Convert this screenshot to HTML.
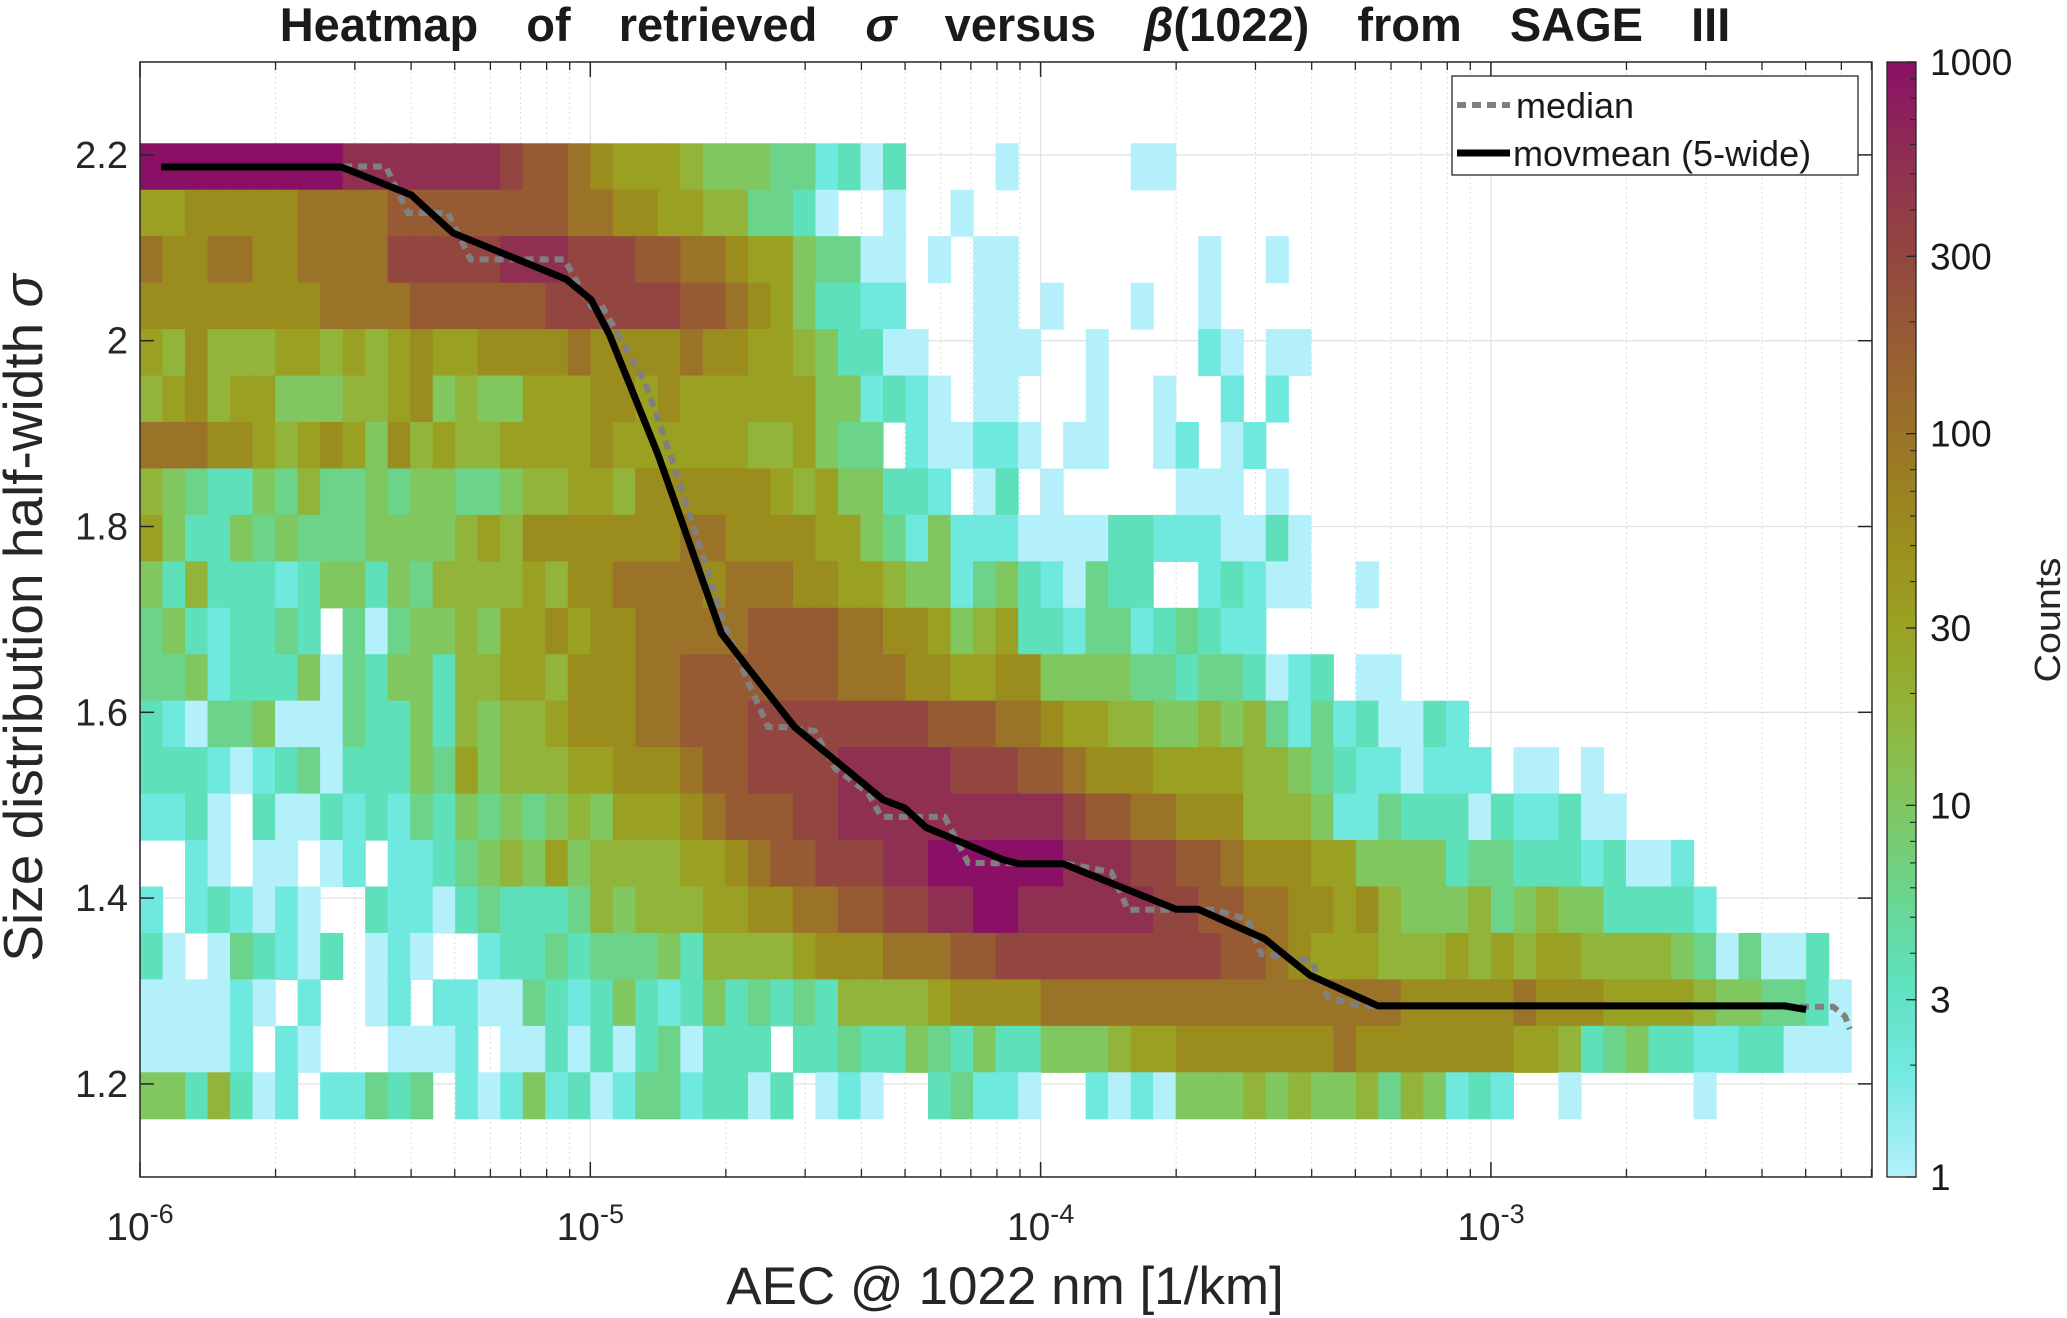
<!DOCTYPE html>
<html><head><meta charset="utf-8"><style>
html,body{margin:0;padding:0;background:#fff;}
svg{display:block;font-family:"Liberation Sans",sans-serif;}
</style></head><body>
<svg id="chart" width="2067" height="1318" viewBox="0 0 2067 1318" xmlns="http://www.w3.org/2000/svg">
<g id="grid"></g>
<g id="cells"></g>
<g id="lines"></g>
<g id="axes"></g>
<g id="cbar"></g>
<text x="1005" y="41" text-anchor="middle" font-size="47" font-weight="bold" fill="#1a1a1a" word-spacing="35">Heatmap of retrieved <tspan font-style="italic">σ</tspan> versus <tspan font-style="italic">β</tspan>(1022) from SAGE III</text>
<text x="1005" y="1304" text-anchor="middle" font-size="53" fill="#262626">AEC @ 1022 nm [1/km]</text>
<text transform="translate(42,618) rotate(-90)" text-anchor="middle" font-size="55" fill="#262626">Size distribution half-width <tspan font-style="italic">σ</tspan></text>
<text transform="translate(2060,620) rotate(-90)" text-anchor="middle" font-size="36" fill="#262626" textLength="125" lengthAdjust="spacingAndGlyphs">Counts</text>
<g>
<rect x="1452" y="76" width="406" height="99" fill="#fff" stroke="#262626" stroke-width="1.3"/>
<line x1="1457" y1="105" x2="1510" y2="105" stroke="#808080" stroke-width="6" stroke-dasharray="9,6"/>
<text x="1516" y="118" font-size="36" fill="#1a1a1a">median</text>
<line x1="1457" y1="153" x2="1510" y2="153" stroke="#000" stroke-width="7"/>
<text x="1513" y="166" font-size="36" fill="#1a1a1a">movmean (5-wide)</text>
</g>
</svg>
<script>
// ---- data ----
const levelCodes = ['a','b','c','d','e','f','g','h','i','j','k','l','m'];
const levelCounts = [1,2,3.5,6,10,18,30,55,100,180,300,550,1000];
const sigmaBinTop = [2.2125,2.1625,2.1125,2.0625,2.0125,1.9625,1.9125,1.8625,1.8125,1.7625,1.7125,1.6625,1.6125,1.5625,1.5125,1.4625,1.4125,1.3625,1.3125,1.2625,1.2125];
const heatRows = [
"mmmmmmmmmlllllllkjj"+"ihgggfeeeddbcac...."+"a.....aa............"+"..................",
"gghhhhhiiiijjjjjjjj"+"iihhggffddca..a..a."+"...................."+"..................",
"ihhiihhiiiikkkkklll"+"kkkjjiihggeddaa.a.a"+"a........a..a......."+"..................",
"hhhhhhhhiiiijjjjjjk"+"kkkkkjjihgeccbb...a"+"a.a...a..a.........."+"..................",
"gfhfffggfgfghgghhhh"+"ihhhhihhggfeccaa..a"+"aa..a....ba.aa......"+"..................",
"fghfggeeeffghefeegg"+"ghhghggggggeebcba.a"+"a...a..a..b.b......."+"..................",
"iiihhgfghgehfgffggg"+"ghggggggffgedd.baab"+"ba.aa..ab.ab........"+"..................",
"fedccedfddedeeddeff"+"ggfhhhhhhgfgeeccb.a"+"c.a.....aaa.a......."+"..................",
"geccededddeeeefgfh"+"h"+"hhhhhiihhhhggedbebb"+"baaaaccbbbaaca......"+"..................",
"ecfcccbceecedffffgf"+"hhiiiihiiihhggfeebd"+"ecbadcc..bcbaa..a..."+"..................",
"decbccdc.dadeefeggh"+"ghhiiiiijjjjiihhgef"+"gccbddbcdcbb........"+"..................",
"ddebccceadceecffggf"+"hhhiijjjjjjjiiihhgg"+"hheeeeddcddcabc.aa.."+"..................",
"cbaddeaaadccecfeffg"+"hhhiijjjkkkkkkkkjjj"+"iihggffeefefdbdbcaac"+"b.................",
"cccbabcdacccedgefff"+"gghhhijjkkkklllllkk"+"kjjihhhggggffedcbbab"+"bb.aa.a...........",
"bbca.caacbcbdcedede"+"feggghijjjkklllllll"+"lllkjjiihhhfffebbdcc"+"cacbbcaa..........",
"..ba.aa.ab.bbcdefeg"+"effffgghijjkkkllmmm"+"mmmlllkkjjihhhggeeee"+"cddcccbcaab.......",
"b.bcbaba..cbbacdccc"+"dfefffgghhiijjkkllm"+"mllllllkkjjiihhghfee"+"efdefeeccccb......",
"ca.adcbac.aba..bccd"+"cdddecffffghhhiiijj"+"kkkkkkkkkkjjihgggfff"+"gfgfggffffedadaac.",
"aaaaba.b..ab.bbaadc"+"bcecbcecdcdcffffghh"+"hhiiiiiiiiiiiiiiiihh"+"hhhihhhggggfeeddca",
"aaaab.ba...aaab.aac"+"acacdaccc.ccdccedce"+"cceeefgghhhhhhhihhhh"+"hhhggfcdeccbbccaaa",
"eecfcab.bbdcd.babeb"+"cabddbccac.aba..cdb"+"ba..babaeeefefeefdfe"+"bcb..a.....a......"
];
const movmeanLogX = [-5.953,-5.553,-5.398,-5.305,-5.053,-4.998,-4.957,-4.850,-4.709,-4.650,-4.546,-4.350,-4.302,-4.254,-4.087,-4.050,-3.950,-3.699,-3.650,-3.502,-3.402,-3.251,-2.348,-2.300];
const movmeanSigma = [2.187,2.187,2.157,2.116,2.066,2.044,2.006,1.878,1.685,1.648,1.584,1.506,1.497,1.476,1.442,1.437,1.437,1.388,1.388,1.356,1.317,1.284,1.284,1.280];
const medianLogX = [-5.549,-5.454,-5.405,-5.316,-5.266,-5.058,-4.998,-4.976,-4.879,-4.813,-4.702,-4.657,-4.605,-4.568,-4.502,-4.457,-4.383,-4.354,-4.213,-4.161,-4.095,-3.947,-3.843,-3.806,-3.717,-3.613,-3.540,-3.510,-3.399,-3.362,-3.288,-2.240,-2.214,-2.203];
const medianSigma = [2.1875,2.1875,2.1375,2.1375,2.0875,2.0875,2.037,2.039,1.956,1.864,1.695,1.641,1.584,1.584,1.580,1.540,1.513,1.4875,1.4875,1.438,1.4375,1.4375,1.428,1.3875,1.3875,1.3875,1.377,1.340,1.333,1.293,1.284,1.283,1.273,1.259];
const yTicks = [1.2,1.4,1.6,1.8,2.0,2.2];
const yTickLabels = ['1.2','1.4','1.6','1.8','2','2.2'];
const xDecades = [-6,-5,-4,-3];
const cbTicks = [1,3,10,30,100,300,1000];
const cbTickLabels = ['1','3','10','30','100','300','1000'];
// ---- layout ----
const L=140,R=1872,T=62,B=1177;
const xMinLog=-6, pxPerDec=450.3, binW=0.05;
const yMax=2.3, pxPerUnit=929;
const xs = lx => L + (lx - xMinLog)*pxPerDec;
const ys = s => T + (yMax - s)*pxPerUnit;
const NS='http://www.w3.org/2000/svg';
function mk(tag, attrs, parent){const e=document.createElementNS(NS,tag);for(const k in attrs)e.setAttribute(k,attrs[k]);parent.appendChild(e);return e;}
const stops=[[0,[179,240,250]],[0.1,[111,233,222]],[0.18,[94,224,187]],[0.26,[108,211,138]],[0.333,[128,199,96]],[0.42,[146,180,58]],[0.49,[154,162,34]],[0.58,[155,140,30]],[0.667,[154,114,40]],[0.75,[151,92,52]],[0.826,[147,70,63]],[0.913,[143,47,82]],[1,[138,16,101]]];
function cmap(t){t=Math.max(0,Math.min(1,t));for(let i=1;i<stops.length;i++){if(t<=stops[i][0]){const a=stops[i-1],b=stops[i];const f=(t-a[0])/(b[0]-a[0]);const c=a[1].map((v,j)=>Math.round(v+(b[1][j]-v)*f));return `rgb(${c[0]},${c[1]},${c[2]})`;}}return 'rgb(138,16,101)';}
// grid
const grid=document.getElementById('grid');
for(const d of xDecades){for(let m=2;m<=9;m++){const x=xs(d+Math.log10(m));if(x>R)continue;const g=mk('line',{x1:x,y1:T,x2:x,y2:B,stroke:'#dcdcdc','stroke-width':1,'stroke-dasharray':'2,3'},grid);}
 const x=xs(d);const g=mk('line',{x1:x,y1:T,x2:x,y2:B,stroke:'#e2e2e2','stroke-width':1.3},grid);}
for(const v of yTicks){const y=ys(v);const g=mk('line',{x1:L,y1:y,x2:R,y2:y,stroke:'#e2e2e2','stroke-width':1.3},grid);}
// cells
const cells=document.getElementById('cells');
heatRows.forEach((row,ri)=>{for(let ci=0;ci<row.length;ci++){const k=levelCodes.indexOf(row[ci]);if(k<0)continue;
 const cnt=levelCounts[k];const x0=xs(xMinLog+ci*binW),x1=xs(xMinLog+(ci+1)*binW);const y0=ys(sigmaBinTop[ri]),y1=ys(sigmaBinTop[ri]-0.05);
 const r=mk('rect',{x:x0,y:y0,width:x1-x0+0.6,height:y1-y0+0.6,fill:cmap(Math.log10(cnt)/3)},cells);
 
 }});
// lines
const lines=document.getElementById('lines');
const medPts=medianLogX.map((x,i)=>xs(x)+','+ys(medianSigma[i])).join(' ');
const med=mk('polyline',{points:medPts,fill:'none',stroke:'#808080','stroke-width':6,'stroke-dasharray':'9,6'},lines);


const mvPts=movmeanLogX.map((x,i)=>xs(x)+','+ys(movmeanSigma[i])).join(' ');
const mv=mk('polyline',{points:mvPts,fill:'none',stroke:'#000','stroke-width':7,'stroke-linejoin':'round'},lines);


// axes
const ax=document.getElementById('axes');
const box=mk('rect',{x:L,y:T,width:R-L,height:B-T,fill:'none',stroke:'#262626','stroke-width':1.5},ax);


yTicks.forEach((v,i)=>{const y=ys(v);
 mk('line',{x1:L,y1:y,x2:L+14,y2:y,stroke:'#262626','stroke-width':1.5},ax);
 mk('line',{x1:R,y1:y,x2:R-14,y2:y,stroke:'#262626','stroke-width':1.5},ax);
 const t=mk('text',{x:L-12,y:y+13,'text-anchor':'end','font-size':38,fill:'#262626'},ax);t.textContent=yTickLabels[i];
 
 });
xDecades.forEach(d=>{for(let m=2;m<=9;m++){const x=xs(d+Math.log10(m));if(x>R)continue;
  mk('line',{x1:x,y1:B,x2:x,y2:B-8,stroke:'#262626','stroke-width':1.3},ax);
  mk('line',{x1:x,y1:T,x2:x,y2:T+8,stroke:'#262626','stroke-width':1.3},ax);}
 const x=xs(d);
 mk('line',{x1:x,y1:B,x2:x,y2:B-15,stroke:'#262626','stroke-width':1.5},ax);
 mk('line',{x1:x,y1:T,x2:x,y2:T+15,stroke:'#262626','stroke-width':1.5},ax);
 const t=mk('text',{x:x,y:1240,'text-anchor':'middle','font-size':39,fill:'#262626'},ax);
 
 
 const a=document.createElementNS(NS,'tspan');a.textContent='10';t.appendChild(a);
 const b=document.createElementNS(NS,'tspan');b.setAttribute('font-size','27');b.setAttribute('dy','-17');b.textContent=String(d);t.appendChild(b);});
// colorbar
const cb=document.getElementById('cbar');
const CL=1887,CR=1916;
const cy=c=>B-(Math.log10(c)/3)*(B-T);
const defs=mk('defs',{},cb);
const grad=mk('linearGradient',{id:'cg',x1:0,y1:1,x2:0,y2:0},defs);
for(let i=0;i<=40;i++){mk('stop',{offset:(i/40),'stop-color':cmap(i/40)},grad);}
const cr=mk('rect',{x:CL,y:T,width:CR-CL,height:B-T,fill:'url(#cg)',stroke:'#262626','stroke-width':1.3},cb);


[1,10,100].forEach(dec=>{for(let m=2;m<=9;m++){const y=cy(dec*m);mk('line',{x1:CR,y1:y,x2:CR-6,y2:y,stroke:'#262626','stroke-width':1.1},cb);}});
cbTicks.forEach((c,i)=>{const y=cy(c);
 mk('line',{x1:CR,y1:y,x2:CR-10,y2:y,stroke:'#262626','stroke-width':1.3},cb);
 const t=mk('text',{x:1930,y:y+13,'font-size':37,fill:'#1a1a1a'},cb);t.textContent=cbTickLabels[i];
 
 });
</script>
</body></html>
